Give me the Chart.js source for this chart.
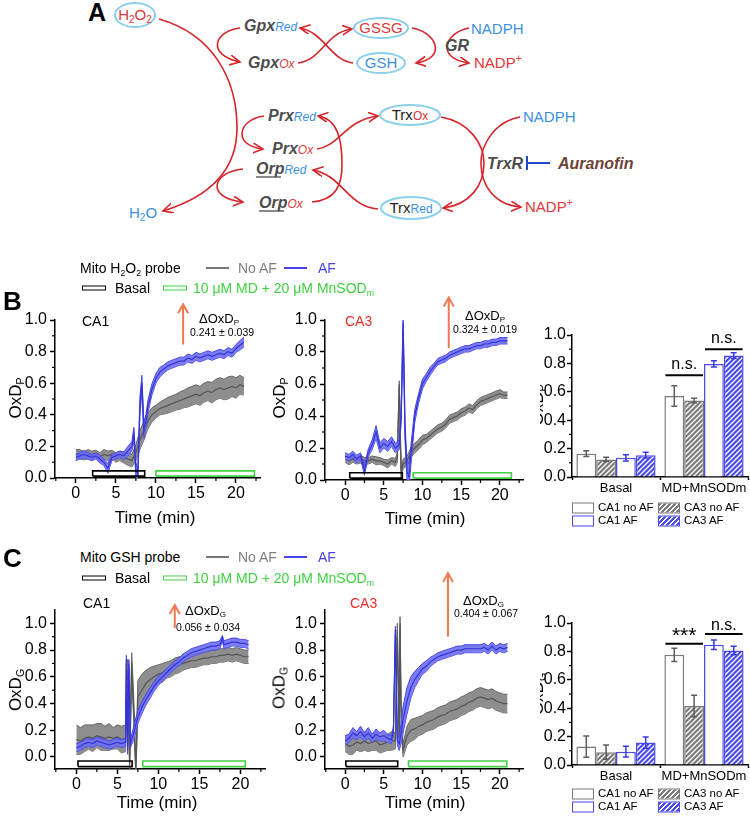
<!DOCTYPE html>
<html>
<head>
<meta charset="utf-8">
<title>Mito H2O2 and GSH probes</title>
<script src="https://cdn.jsdelivr.net/npm/chart.js@4.4.1/dist/chart.umd.min.js"></script>
<style>
  html, body { margin: 0; padding: 0; background: #fff; }
  body { font-family: "Liberation Sans", Arial, sans-serif; color: #000; }
  #fig { position: relative; width: 750px; height: 818px; overflow: hidden; }
  canvas, svg { position: absolute; }
  .lbl { position: absolute; white-space: nowrap; transform: translateY(-50%); line-height: 1; }
  .ctr { position: absolute; white-space: nowrap; transform: translate(-50%, -50%); line-height: 1; }
  .ytitle { position: absolute; white-space: nowrap; transform: translate(-50%, -50%) rotate(-90deg); font-size: 17px; line-height: 1; }
  .clip { position: absolute; overflow: hidden; }
  sub { font-size: 0.62em; vertical-align: -0.3em; line-height: 0; }
  .panel { position: absolute; font-weight: bold; font-size: 26px; transform: translateY(-50%); line-height: 1; }
  .head { font-size: 14px; }
  .swline { position: absolute; width: 23px; height: 0; border-top: 2px solid; }
  .swbox { position: absolute; width: 22px; height: 3px; border: 1.5px solid; background: #fff; transform: translateY(-50%); }
  .lg { position: absolute; width: 20px; height: 9px; border: 1.5px solid; background: #fff; transform: translateY(-50%); }
  .lgt { position: absolute; font-size: 11.5px; transform: translateY(-50%); line-height: 1; white-space: nowrap; }
</style>
</head>
<body>
<div id="fig">

<svg style="left:0;top:0" width="750" height="235" font-family="Liberation Sans, Arial, sans-serif">
  <defs>
    <marker id="ah" markerWidth="12" markerHeight="12" refX="10" refY="5" orient="auto" markerUnits="userSpaceOnUse">
      <path d="M0,0 L10,5 L0,10" fill="none" stroke="#d7242a" stroke-width="1.6"/>
    </marker>
  </defs>
  <text x="88" y="21" font-size="25" font-weight="bold">A</text>
  <g fill="none" stroke="#d7242a" stroke-width="1.6">
    <path d="M159,19 C212,34 237,78 237,128 C237,168 212,196 163,211" marker-end="url(#ah)"/>
    <path d="M240,28 C214,31 206,55 240,62" marker-end="url(#ah)"/>
    <path d="M298,63 C322,60 326,32 352,29" marker-end="url(#ah)"/>
    <path d="M353,63 C330,60 324,32 300,28" marker-end="url(#ah)"/>
    <path d="M412,28 C436,32 448,58 416,63" marker-end="url(#ah)"/>
    <path d="M469,28 C446,32 434,58 469,63" marker-end="url(#ah)"/>
    <path d="M264,116 C238,119 232,146 263,149" marker-end="url(#ah)"/>
    <path d="M243,169 C212,172 205,198 243,202" marker-end="url(#ah)"/>
    <path d="M317,149 C340,146 345,120 378,116" marker-end="url(#ah)"/>
    <path d="M312,202 C336,200 342,185 342,165 C342,140 338,119 318,116" marker-end="url(#ah)"/>
    <path d="M378,209 C348,207 342,175 313,170" marker-end="url(#ah)"/>
    <path d="M441,117 C470,122 484,145 484,163 C484,185 470,205 443,208" marker-end="url(#ah)"/>
    <path d="M520,117 C494,122 481,145 481,163 C481,185 494,205 521,207" marker-end="url(#ah)"/>
  </g>
  <g fill="#fff" stroke="#8ccfec" stroke-width="2">
    <ellipse cx="135" cy="15" rx="20" ry="12"/>
    <ellipse cx="381" cy="28" rx="27" ry="10"/>
    <ellipse cx="381" cy="63" rx="24" ry="10"/>
    <ellipse cx="410" cy="115" rx="30" ry="10"/>
    <ellipse cx="411" cy="208" rx="30" ry="11"/>
  </g>
  <text x="135" y="20" font-size="15" fill="#e0383a" text-anchor="middle">H<tspan font-size="10" dy="3">2</tspan><tspan dy="-3">O</tspan><tspan font-size="10" dy="3">2</tspan></text>
  <text x="244" y="31" font-size="16" font-weight="bold" font-style="italic" fill="#4d4d4d">Gpx<tspan font-size="12" font-weight="normal" fill="#3d8fe0">Red</tspan></text>
  <text x="248" y="68" font-size="16" font-weight="bold" font-style="italic" fill="#4d4d4d">Gpx<tspan font-size="12" font-weight="normal" fill="#e0383a">Ox</tspan></text>
  <text x="381" y="33" font-size="15" fill="#e0383a" text-anchor="middle">GSSG</text>
  <text x="381" y="68" font-size="15" fill="#3d8fe0" text-anchor="middle">GSH</text>
  <text x="471" y="34" font-size="15" fill="#3d8fe0">NADPH</text>
  <text x="445" y="51" font-size="16" font-weight="bold" font-style="italic" fill="#4d4d4d">GR</text>
  <text x="474" y="68" font-size="15" fill="#e0383a">NADP<tspan font-size="10" dy="-6">+</tspan></text>
  <text x="268" y="121" font-size="16" font-weight="bold" font-style="italic" fill="#4d4d4d">Prx<tspan font-size="12" font-weight="normal" fill="#3d8fe0">Red</tspan></text>
  <text x="272" y="154" font-size="16" font-weight="bold" font-style="italic" fill="#4d4d4d">Prx<tspan font-size="12" font-weight="normal" fill="#e0383a">Ox</tspan></text>
  <text x="256" y="174" font-size="16" font-weight="bold" font-style="italic" fill="#4d4d4d">Orp<tspan font-size="12" font-weight="normal" fill="#3d8fe0">Red</tspan></text>
  <line x1="256" y1="177" x2="281" y2="177" stroke="#4d4d4d" stroke-width="1.3"/>
  <text x="259" y="208" font-size="16" font-weight="bold" font-style="italic" fill="#4d4d4d">Orp<tspan font-size="12" font-weight="normal" fill="#e0383a">Ox</tspan></text>
  <line x1="259" y1="211" x2="284" y2="211" stroke="#4d4d4d" stroke-width="1.3"/>
  <text x="410" y="120" font-size="15" fill="#222" text-anchor="middle">Trx<tspan font-size="12" fill="#e0383a">Ox</tspan></text>
  <text x="411" y="213" font-size="15" fill="#222" text-anchor="middle">Trx<tspan font-size="12" fill="#3d8fe0">Red</tspan></text>
  <text x="523" y="122" font-size="15" fill="#3d8fe0">NADPH</text>
  <text x="487" y="169" font-size="16" font-weight="bold" font-style="italic" fill="#4d4d4d">TrxR</text>
  <g stroke="#2446c8" stroke-width="2">
    <line x1="527" y1="156" x2="527" y2="170"/>
    <line x1="527" y1="163" x2="550" y2="163"/>
  </g>
  <text x="558" y="169" font-size="16" font-weight="bold" font-style="italic" fill="#6e4236">Auranofin</text>
  <text x="525" y="212" font-size="15" fill="#e0383a">NADP<tspan font-size="10" dy="-6">+</tspan></text>
  <text x="129" y="218" font-size="15" fill="#3d8fe0">H<tspan font-size="10" dy="3">2</tspan><tspan dy="-3">O</tspan></text>
</svg>

<canvas id="bCa1" width="275" height="250" style="left:0;top:290px"></canvas>
<canvas id="bCa3" width="265" height="250" style="left:270px;top:290px"></canvas>
<canvas id="bBar" width="210" height="200" style="left:540px;top:300px"></canvas>
<canvas id="cCa1" width="275" height="233" style="left:0;top:585px"></canvas>
<canvas id="cCa3" width="265" height="253" style="left:270px;top:565px"></canvas>
<canvas id="cBar" width="210" height="190" style="left:540px;top:600px"></canvas>

<!-- panel B header -->
<div class="panel" style="left:3px;top:301px">B</div>
<div class="lbl head" style="left:80px;top:268px">Mito H<sub>2</sub>O<sub>2</sub> probe</div>
<div class="swline" style="left:206px;top:267px;border-color:#777"></div>
<div class="lbl head" style="left:238px;top:268px;color:#808080">No AF</div>
<div class="swline" style="left:284px;top:267px;border-color:#4545e8"></div>
<div class="lbl head" style="left:318px;top:268px;color:#4545e8">AF</div>
<div class="swbox" style="left:82px;top:288px;border-color:#000"></div>
<div class="lbl head" style="left:115px;top:288px">Basal</div>
<div class="swbox" style="left:163px;top:288px;border-color:#3fd13f"></div>
<div class="lbl head" style="left:193px;top:288px;color:#3fd13f">10 μM MD + 20 μM MnSOD<sub>m</sub></div>

<div class="lbl" style="left:82px;top:321px;font-size:14px">CA1</div>
<div class="lbl" style="left:345px;top:321px;font-size:14px;color:#e8302a">CA3</div>
<div class="lbl" style="left:199px;top:318px;font-size:13px">ΔOxD<sub>P</sub></div>
<div class="ctr" style="left:222px;top:332px;font-size:10.5px">0.241 ± 0.039</div>
<div class="lbl" style="left:465px;top:315px;font-size:13px">ΔOxD<sub>P</sub></div>
<div class="ctr" style="left:485px;top:329px;font-size:10.5px">0.324 ± 0.019</div>

<div class="ytitle" style="left:15px;top:398px">OxD<sub>P</sub></div>
<div class="ytitle" style="left:279px;top:398px">OxD<sub>P</sub></div>
<div class="clip" style="left:540px;top:360px;width:5px;height:90px"><div class="ytitle" style="left:-3px;top:45px">OxD<sub>P</sub></div></div>
<div class="ctr" style="left:155px;top:517px;font-size:17px">Time (min)</div>
<div class="ctr" style="left:425px;top:518px;font-size:17px">Time (min)</div>

<div class="lg" style="left:572px;top:508px;border-color:#7a7a7a"></div>
<div class="lgt" style="left:598px;top:508px">CA1 no AF</div>
<div class="lg" style="left:658px;top:508px;border-color:#7a7a7a;background:repeating-linear-gradient(135deg,#7a7a7a 0 2px,#fff 2px 3.5px)"></div>
<div class="lgt" style="left:684px;top:508px">CA3 no AF</div>
<div class="lg" style="left:572px;top:521px;border-color:#4b4bea"></div>
<div class="lgt" style="left:598px;top:521px">CA1 AF</div>
<div class="lg" style="left:658px;top:521px;border-color:#4b4bea;background:repeating-linear-gradient(135deg,#4b4bea 0 2px,#fff 2px 3.5px)"></div>
<div class="lgt" style="left:684px;top:521px">CA3 AF</div>

<!-- panel C header -->
<div class="panel" style="left:3px;top:558px">C</div>
<div class="lbl head" style="left:80px;top:557px">Mito GSH probe</div>
<div class="swline" style="left:206px;top:556px;border-color:#777"></div>
<div class="lbl head" style="left:238px;top:557px;color:#808080">No AF</div>
<div class="swline" style="left:284px;top:556px;border-color:#4545e8"></div>
<div class="lbl head" style="left:318px;top:557px;color:#4545e8">AF</div>
<div class="swbox" style="left:82px;top:578px;border-color:#000"></div>
<div class="lbl head" style="left:115px;top:578px">Basal</div>
<div class="swbox" style="left:163px;top:578px;border-color:#3fd13f"></div>
<div class="lbl head" style="left:193px;top:578px;color:#3fd13f">10 μM MD + 20 μM MnSOD<sub>m</sub></div>

<div class="lbl" style="left:83px;top:603px;font-size:14px">CA1</div>
<div class="lbl" style="left:350px;top:603px;font-size:14px;color:#e8302a">CA3</div>
<div class="lbl" style="left:185px;top:610px;font-size:13px">ΔOxD<sub>G</sub></div>
<div class="ctr" style="left:208px;top:627px;font-size:10.5px">0.056 ± 0.034</div>
<div class="lbl" style="left:463px;top:600px;font-size:13px">ΔOxD<sub>G</sub></div>
<div class="ctr" style="left:486px;top:613px;font-size:10.5px">0.404 ± 0.067</div>

<div class="ytitle" style="left:15px;top:690px">OxD<sub>G</sub></div>
<div class="ytitle" style="left:279px;top:688px">OxD<sub>G</sub></div>
<div class="clip" style="left:540px;top:649px;width:5px;height:90px"><div class="ytitle" style="left:-3px;top:45px">OxD<sub>G</sub></div></div>
<div class="ctr" style="left:157px;top:802px;font-size:17px">Time (min)</div>
<div class="ctr" style="left:425px;top:802px;font-size:17px">Time (min)</div>

<div class="lg" style="left:572px;top:794px;border-color:#7a7a7a"></div>
<div class="lgt" style="left:598px;top:794px">CA1 no AF</div>
<div class="lg" style="left:658px;top:794px;border-color:#7a7a7a;background:repeating-linear-gradient(135deg,#7a7a7a 0 2px,#fff 2px 3.5px)"></div>
<div class="lgt" style="left:684px;top:794px">CA3 no AF</div>
<div class="lg" style="left:572px;top:807px;border-color:#4b4bea"></div>
<div class="lgt" style="left:598px;top:807px">CA1 AF</div>
<div class="lg" style="left:658px;top:807px;border-color:#4b4bea;background:repeating-linear-gradient(135deg,#4b4bea 0 2px,#fff 2px 3.5px)"></div>
<div class="lgt" style="left:684px;top:807px">CA3 AF</div>
</div>

<script>
// ---- data ----
// B, CA1 (mito H2O2 probe)
const tHalf = [0,0.5,1,1.5,2,2.5,3,3.5,4,4.5,5,5.5,6,6.5,7,7.5,8,8.5,9,9.5,10,10.5,11,11.5,12,12.5,13,13.5,14,14.5,15,15.5,16,16.5,17,17.5,18,18.5,19,19.5,20,20.5,21];
const bCa1GrayM = [0.15,0.15,0.14,0.15,0.14,0.15,0.13,0.15,0.14,0.15,0.13,0.14,0.13,0.12,0.11,0.16,0.24,0.30,0.36,0.40,0.42,0.44,0.45,0.46,0.47,0.48,0.49,0.50,0.51,0.52,0.53,0.52,0.54,0.55,0.54,0.56,0.57,0.56,0.57,0.58,0.57,0.59,0.58];
const bCa1GrayE = [0.03,0.03,0.025,0.03,0.03,0.025,0.03,0.03,0.03,0.025,0.03,0.03,0.035,0.04,0.04,0.05,0.06,0.06,0.05,0.045,0.04,0.04,0.045,0.05,0.05,0.05,0.055,0.055,0.06,0.06,0.06,0.06,0.06,0.06,0.065,0.065,0.065,0.065,0.07,0.065,0.065,0.06,0.055];
const bCa1BlueT = [0,0.5,1,1.5,2,2.5,3,3.5,4,4.5,5,5.5,6,6.5,7,7.25,7.5,7.75,8,8.25,8.5,8.75,9,9.5,10,10.5,11,11.5,12,12.5,13,13.5,14,14.5,15,15.5,16,16.5,17,17.5,18,18.5,19,19.5,20,20.5,21];
const bCa1BlueM = [0.13,0.14,0.15,0.14,0.13,0.14,0.12,0.10,0.06,0.13,0.14,0.15,0.14,0.17,0.20,0.28,0.05,0.02,0.45,0.60,0.30,0.36,0.45,0.56,0.63,0.67,0.69,0.71,0.72,0.73,0.74,0.74,0.76,0.75,0.77,0.76,0.77,0.78,0.77,0.78,0.79,0.78,0.80,0.79,0.82,0.84,0.86];
const bCa1BlueE = [0.02,0.02,0.025,0.02,0.02,0.02,0.025,0.02,0.03,0.02,0.02,0.02,0.025,0.03,0.03,0.04,0.05,0.03,0.06,0.05,0.05,0.04,0.04,0.035,0.03,0.03,0.025,0.025,0.025,0.025,0.025,0.025,0.025,0.025,0.025,0.025,0.025,0.025,0.025,0.025,0.025,0.025,0.025,0.025,0.025,0.03,0.03];

// B, CA3
const bCa3GrayT = [0,0.5,1,1.5,2,2.5,3,3.5,4,4.5,5,5.5,6,6.5,6.75,7,7.25,7.5,8,8.5,9,9.5,10,10.5,11,11.5,12,12.5,13,13.5,14,14.5,15,15.5,16,16.5,17,17.5,18,18.5,19,19.5,20,20.5,21];
const bCa3GrayM = [0.13,0.12,0.13,0.12,0.13,0.12,0.12,0.13,0.12,0.12,0.11,0.10,0.12,0.11,0.14,0.60,0.04,0.10,0.12,0.17,0.20,0.22,0.25,0.26,0.28,0.30,0.32,0.33,0.35,0.38,0.39,0.40,0.42,0.43,0.45,0.44,0.47,0.49,0.50,0.51,0.52,0.53,0.54,0.53,0.53];
const bCa3GrayE = [0.02,0.025,0.02,0.02,0.025,0.02,0.02,0.02,0.025,0.02,0.02,0.025,0.02,0.025,0.03,0.02,0.03,0.03,0.03,0.03,0.03,0.03,0.03,0.025,0.025,0.025,0.025,0.025,0.025,0.025,0.025,0.025,0.025,0.025,0.025,0.025,0.025,0.025,0.025,0.025,0.025,0.025,0.025,0.02,0.02];
const bCa3BlueT = [0,0.5,1,1.5,2,2.5,3,3.5,4,4.5,5,5.5,6,6.5,7,7.25,7.5,7.75,8,8.25,8.5,9,9.5,10,10.5,11,11.5,12,12.5,13,13.5,14,14.5,15,15.5,16,16.5,17,17.5,18,18.5,19,19.5,20,20.5,21];
const bCa3BlueM = [0.15,0.14,0.16,0.13,0.15,0.06,0.17,0.22,0.30,0.20,0.23,0.21,0.24,0.20,0.22,0.40,0.98,0.30,0.05,0.02,0.15,0.40,0.51,0.60,0.64,0.68,0.71,0.74,0.75,0.76,0.78,0.79,0.80,0.81,0.82,0.82,0.83,0.84,0.84,0.85,0.85,0.86,0.86,0.87,0.87,0.87];
const bCa3BlueE = [0.02,0.02,0.02,0.025,0.02,0.03,0.025,0.03,0.04,0.03,0.03,0.03,0.03,0.03,0.03,0.04,0.05,0.06,0.06,0.08,0.06,0.04,0.03,0.03,0.025,0.025,0.02,0.02,0.02,0.02,0.02,0.02,0.02,0.02,0.02,0.02,0.02,0.02,0.02,0.02,0.02,0.02,0.02,0.02,0.02,0.02];

// C, CA1 (mito GSH probe)
const cCa1GrayT = [0,0.5,1,1.5,2,2.5,3,3.5,4,4.5,5,5.5,6,6.25,6.5,6.75,7,7.25,7.5,8,8.5,9,9.5,10,10.5,11,11.5,12,12.5,13,13.5,14,14.5,15,15.5,16,16.5,17,17.5,18,18.5,19,19.5,20,20.5,21];
const cCa1GrayM = [0.13,0.12,0.14,0.15,0.14,0.16,0.15,0.14,0.15,0.14,0.15,0.13,0.14,0.65,-0.05,0.70,0.35,-0.10,0.45,0.50,0.55,0.58,0.60,0.62,0.63,0.65,0.66,0.68,0.69,0.70,0.71,0.72,0.72,0.73,0.74,0.74,0.75,0.75,0.76,0.76,0.77,0.76,0.77,0.76,0.75,0.75];
const cCa1GrayE = [0.11,0.1,0.1,0.09,0.1,0.09,0.1,0.09,0.1,0.08,0.09,0.1,0.1,0.08,0.06,0.08,0.1,0.05,0.12,0.12,0.1,0.09,0.08,0.07,0.07,0.06,0.06,0.06,0.06,0.05,0.05,0.05,0.05,0.05,0.05,0.05,0.05,0.05,0.05,0.05,0.05,0.05,0.05,0.05,0.05,0.05];
const cCa1BlueT = [0,0.5,1,1.5,2,2.5,3,3.5,4,4.5,5,5.5,6,6.1,6.25,6.4,6.6,7,7.5,8,8.5,9,9.5,10,10.5,11,11.5,12,12.5,13,13.5,14,14.5,15,15.5,16,16.5,17,17.5,17.8,18,18.5,19,19.5,20,20.5,21];
const cCa1BlueM = [0.07,0.08,0.10,0.11,0.10,0.12,0.11,0.10,0.09,0.10,0.11,0.10,0.11,0.73,0.05,0.70,0.10,0.18,0.30,0.37,0.43,0.48,0.53,0.57,0.60,0.63,0.66,0.69,0.71,0.74,0.76,0.78,0.79,0.80,0.81,0.82,0.83,0.83,0.84,0.89,0.84,0.85,0.86,0.86,0.85,0.85,0.84];
const cCa1BlueE = [0.03,0.03,0.03,0.03,0.03,0.03,0.03,0.03,0.03,0.03,0.03,0.03,0.03,0.03,0.03,0.03,0.03,0.05,0.05,0.045,0.04,0.04,0.035,0.035,0.03,0.03,0.03,0.03,0.03,0.03,0.03,0.03,0.03,0.03,0.03,0.03,0.03,0.03,0.03,0.02,0.03,0.03,0.03,0.03,0.03,0.03,0.03];

// C, CA3
const cCa3GrayT = [0,0.5,1,1.5,2,2.5,3,3.5,4,4.5,5,5.5,6,6.5,6.75,7,7.1,7.25,7.5,8,8.5,9,9.5,10,10.5,11,11.5,12,12.5,13,13.5,14,14.5,15,15.5,16,16.5,17,17.5,18,18.5,19,19.5,20,20.5,21];
const cCa3GrayM = [0.10,0.08,0.09,0.11,0.10,0.12,0.10,0.11,0.12,0.09,0.10,0.11,0.12,0.12,0.95,0.10,1.00,0.30,0.05,0.16,0.20,0.21,0.23,0.24,0.26,0.27,0.28,0.30,0.31,0.32,0.34,0.35,0.36,0.38,0.39,0.41,0.42,0.44,0.45,0.44,0.43,0.44,0.42,0.41,0.40,0.40];
const cCa3GrayE = [0.06,0.06,0.07,0.06,0.06,0.07,0.06,0.06,0.07,0.06,0.06,0.06,0.07,0.06,0.05,0.05,0.05,0.08,0.05,0.07,0.08,0.08,0.07,0.07,0.07,0.07,0.07,0.07,0.07,0.07,0.07,0.07,0.07,0.07,0.07,0.07,0.07,0.07,0.07,0.07,0.07,0.07,0.07,0.07,0.07,0.07];
const cCa3BlueT = [0,0.5,1,1.5,2,2.5,3,3.5,4,4.5,5,5.5,6,6.25,6.5,6.75,7,7.25,7.5,8,8.5,9,9.5,10,10.5,11,11.5,12,12.5,13,13.5,14,14.5,15,15.5,16,16.5,17,17.5,18,18.5,19,19.5,20,20.5,21];
const cCa3BlueM = [0.12,0.14,0.18,0.16,0.19,0.15,0.18,0.14,0.17,0.15,0.16,0.14,0.13,0.20,0.95,0.12,0.10,0.18,0.28,0.42,0.52,0.58,0.62,0.66,0.68,0.71,0.73,0.75,0.76,0.77,0.78,0.79,0.80,0.80,0.81,0.81,0.81,0.81,0.81,0.82,0.80,0.83,0.80,0.82,0.81,0.82];
const cCa3BlueE = [0.04,0.03,0.04,0.03,0.04,0.03,0.04,0.03,0.04,0.03,0.04,0.03,0.03,0.03,0.03,0.03,0.05,0.08,0.1,0.1,0.08,0.06,0.05,0.04,0.04,0.035,0.03,0.03,0.03,0.03,0.03,0.03,0.03,0.03,0.03,0.03,0.03,0.03,0.03,0.03,0.03,0.03,0.03,0.03,0.03,0.03];

// treatment windows (min) drawn as outlined boxes along the bottom
const basalB1 = [2.1, 8.6], mdB1 = [10.0, 22.3];
const basalB3 = [0.6, 7.4], mdB3 = [8.8, 21.5];
const basalC1 = [0.2, 6.8], mdC1 = [8.1, 20.6];
const basalC3 = [0.1, 6.8], mdC3 = [8.2, 20.9];

// delta arrows: [time, from, to]
const arrowB1 = [13.4, 0.845, 1.10];
const arrowB3 = [13.4, 0.825, 1.14];
const arrowC1 = [12.0, 0.965, 1.137];
const arrowC3 = [13.3, 0.90, 1.376];

// bar charts
const barCats = ['Basal', 'MD+MnSODm'];
const bNoAf1 = [0.164, 0.57],  bNoAf1Err = [0.02, 0.072];
const bNoAf3 = [0.124, 0.539], bNoAf3Err = [0.015, 0.016];
const bAf1 = [0.135, 0.796],   bAf1Err = [0.022, 0.022];
const bAf3 = [0.154, 0.855],   bAf3Err = [0.02, 0.02];
const cNoAf1 = [0.13, 0.776],  cNoAf1Err = [0.075, 0.047];
const cNoAf3 = [0.09, 0.416],  cNoAf3Err = [0.05, 0.076];
const cAf1 = [0.094, 0.847],   cAf1Err = [0.038, 0.033];
const cAf3 = [0.158, 0.807],   cAf3Err = [0.04, 0.03];

const yMinor = [0.1, 0.3, 0.5, 0.7, 0.9];
const xMinor = [-2.5, 2.5, 7.5, 12.5, 17.5, 22.5];

Chart.defaults.font.family = '"Liberation Sans", Arial, sans-serif';
Chart.defaults.color = '#000';

// ---- small plugins ----
const minorTicks = {
  id: 'minorTicks',
  afterDraw(chart, args, o) {
    const ctx = chart.ctx, a = chart.chartArea;
    ctx.save();
    ctx.strokeStyle = '#000';
    ctx.lineWidth = 1.2;
    (o.y || []).forEach(v => {
      const p = chart.scales.y.getPixelForValue(v);
      ctx.beginPath(); ctx.moveTo(a.left, p); ctx.lineTo(a.left - 3, p); ctx.stroke();
    });
    (o.x || []).forEach(v => {
      const p = chart.scales.x.getPixelForValue(v);
      ctx.beginPath(); ctx.moveTo(p, a.bottom); ctx.lineTo(p, a.bottom + 3); ctx.stroke();
    });
    ctx.restore();
  }
};

const upArrow = {
  id: 'upArrow',
  afterDraw(chart, args, o) {
    if (!o.spec) return;
    const x = chart.scales.x.getPixelForValue(o.spec[0]);
    const y0 = chart.scales.y.getPixelForValue(o.spec[1]);
    const y1 = chart.scales.y.getPixelForValue(o.spec[2]);
    const ctx = chart.ctx;
    ctx.save();
    ctx.strokeStyle = '#f07850';
    ctx.lineWidth = 2;
    ctx.beginPath();
    ctx.moveTo(x, y0); ctx.lineTo(x, y1);
    ctx.moveTo(x - 5, y1 + 9); ctx.lineTo(x, y1); ctx.lineTo(x + 5, y1 + 9);
    ctx.stroke();
    ctx.restore();
  }
};

const errBars = {
  id: 'errBars',
  afterDatasetsDraw(chart) {
    const ctx = chart.ctx, ys = chart.scales.y;
    chart.data.datasets.forEach((ds, i) => {
      chart.getDatasetMeta(i).data.forEach((bar, j) => {
        const hi = ys.getPixelForValue(ds.data[j] + ds.errors[j]);
        const lo = ys.getPixelForValue(ds.data[j] - ds.errors[j]);
        ctx.save();
        ctx.strokeStyle = ds.errColor;
        ctx.lineWidth = 1.5;
        ctx.beginPath();
        ctx.moveTo(bar.x, hi); ctx.lineTo(bar.x, lo);
        ctx.moveTo(bar.x - 3, hi); ctx.lineTo(bar.x + 3, hi);
        ctx.moveTo(bar.x - 3, lo); ctx.lineTo(bar.x + 3, lo);
        ctx.stroke();
        ctx.restore();
      });
    });
  }
};

const sigMarks = {
  id: 'sigMarks',
  afterDraw(chart, args, o) {
    const ctx = chart.ctx;
    (o.marks || []).forEach(m => {
      const a = chart.getDatasetMeta(m.from).data[1];
      const b = chart.getDatasetMeta(m.to).data[1];
      const y = chart.scales.y.getPixelForValue(m.y);
      const ty = chart.scales.y.getPixelForValue(m.ty);
      ctx.save();
      ctx.strokeStyle = '#000';
      ctx.lineWidth = 2;
      ctx.beginPath();
      ctx.moveTo(a.x - a.width / 2 + 1, y); ctx.lineTo(b.x + b.width / 2 - 1, y);
      ctx.stroke();
      ctx.fillStyle = '#000';
      ctx.font = m.size + 'px "Liberation Sans", Arial, sans-serif';
      ctx.textAlign = 'center';
      ctx.textBaseline = 'middle';
      ctx.fillText(m.text, (a.x + b.x) / 2, ty);
      ctx.restore();
    });
  }
};

// ---- time course charts ----
function band(t, m, e, edge, mean, fillCol) {
  return [
    {data: t.map((x, i) => ({x: x, y: m[i]})), borderColor: mean, borderWidth: 1.2, pointRadius: 0, fill: false},
    {data: t.map((x, i) => ({x: x, y: m[i] + e[i]})), borderColor: edge, borderWidth: 1, pointRadius: 0, fill: '+1', backgroundColor: fillCol},
    {data: t.map((x, i) => ({x: x, y: m[i] - e[i]})), borderColor: edge, borderWidth: 1, pointRadius: 0, fill: false}
  ];
}

function box(win, y0, y1, col) {
  return {
    data: [{x: win[0], y: y0}, {x: win[1], y: y0}, {x: win[1], y: y1}, {x: win[0], y: y1}, {x: win[0], y: y0}],
    borderColor: col, borderWidth: 1.6, pointRadius: 0, fill: false
  };
}

function timeChart(id, s) {
  return new Chart(document.getElementById(id), {
    type: 'line',
    data: {
      datasets: [
        box(s.basal, s.boxY[0], s.boxY[1], '#000'),
        box(s.md, s.boxY[0], s.boxY[1], '#3fd13f')
      ].concat(
        band(s.blue[0], s.blue[1], s.blue[2], '#4646e8', '#3434d6', 'rgba(110,110,242,0.9)'),
        band(s.gray[0], s.gray[1], s.gray[2], '#666', '#555', '#8e8e8e')
      )
    },
    options: {
      responsive: false,
      animation: false,
      devicePixelRatio: 1,
      layout: {padding: {top: s.padTop, right: s.padRight, left: 0, bottom: 0}},
      elements: {line: {tension: 0}},
      plugins: {
        legend: {display: false},
        tooltip: {enabled: false},
        minorTicks: {x: xMinor, y: yMinor},
        upArrow: {spec: s.arrow}
      },
      scales: {
        x: {
          type: 'linear', min: -2.6, max: 23,
          border: {color: '#000', width: 1.5},
          grid: {drawOnChartArea: false, tickLength: 5, tickWidth: 1.5, tickColor: '#000'},
          ticks: {stepSize: 5, includeBounds: false, font: {size: 16}, padding: 1, maxRotation: 0, color: '#000'},
          afterFit: sc => { sc.height = s.xH; }
        },
        y: {
          min: s.yMin, max: s.yMax,
          border: {color: '#000', width: 1.5},
          grid: {drawOnChartArea: false, tickLength: 5, tickWidth: 1.5, tickColor: '#000'},
          ticks: {stepSize: 0.2, includeBounds: false, font: {size: 16}, padding: 3, color: '#000',
                  callback: v => v.toFixed(1)},
          afterFit: sc => { sc.width = 55; }
        }
      }
    },
    plugins: [minorTicks, upArrow]
  });
}

timeChart('bCa1', {
  gray: [tHalf, bCa1GrayM, bCa1GrayE], blue: [bCa1BlueT, bCa1BlueM, bCa1BlueE],
  basal: basalB1, md: mdB1, boxY: [0.012, 0.045], arrow: arrowB1,
  yMin: 0, yMax: 1.0, padTop: 30, padRight: 15, xH: 62
});
timeChart('bCa3', {
  gray: [bCa3GrayT, bCa3GrayM, bCa3GrayE], blue: [bCa3BlueT, bCa3BlueM, bCa3BlueE],
  basal: basalB3, md: mdB3, boxY: [0.012, 0.045], arrow: arrowB3,
  yMin: 0, yMax: 1.0, padTop: 30, padRight: 12, xH: 60
});
timeChart('cCa1', {
  gray: [cCa1GrayT, cCa1GrayM, cCa1GrayE], blue: [cCa1BlueT, cCa1BlueM, cCa1BlueE],
  basal: basalC1, md: mdC1, boxY: [-0.072, -0.03], arrow: arrowC1,
  yMin: -0.09, yMax: 1.1, padTop: 25, padRight: 10, xH: 49
});
timeChart('cCa3', {
  gray: [cCa3GrayT, cCa3GrayM, cCa3GrayE], blue: [cCa3BlueT, cCa3BlueM, cCa3BlueE],
  basal: basalC3, md: mdC3, boxY: [-0.072, -0.03], arrow: arrowC3,
  yMin: -0.09, yMax: 1.1, padTop: 45, padRight: 12, xH: 49
});

// ---- bar charts ----
function hatch(back) {
  const c = document.createElement('canvas');
  c.width = 5; c.height = 5;
  const g = c.getContext('2d');
  g.fillStyle = back; g.fillRect(0, 0, 5, 5);
  g.strokeStyle = '#fff'; g.lineWidth = 1.3;
  g.beginPath();
  g.moveTo(0, 5); g.lineTo(5, 0);
  g.moveTo(-1, 1); g.lineTo(1, -1);
  g.moveTo(4, 6); g.lineTo(6, 4);
  g.stroke();
  return g.createPattern(c, 'repeat');
}
const grayHatch = hatch('#7a7a7a');
const blueHatch = hatch('#4b4bea');

function barChart(id, s) {
  const ds = (data, err, bg, border) => ({
    data: data, errors: err, errColor: border === '#7a7a7a' ? '#5c5c5c' : '#3a3ae0',
    backgroundColor: bg, borderColor: border, borderWidth: 1.5,
    barPercentage: 1.0, categoryPercentage: 0.9
  });
  return new Chart(document.getElementById(id), {
    type: 'bar',
    data: {
      labels: barCats,
      datasets: [
        ds(s.v[0], s.e[0], '#fff', '#7a7a7a'),
        ds(s.v[1], s.e[1], grayHatch, '#7a7a7a'),
        ds(s.v[2], s.e[2], '#fff', '#4b4bea'),
        ds(s.v[3], s.e[3], blueHatch, '#4b4bea')
      ]
    },
    options: {
      responsive: false,
      animation: false,
      devicePixelRatio: 1,
      layout: {padding: {top: s.padTop, right: 2, left: 0, bottom: 0}},
      plugins: {
        legend: {display: false},
        tooltip: {enabled: false},
        minorTicks: {y: yMinor},
        sigMarks: {marks: s.marks}
      },
      scales: {
        x: {
          border: {color: '#000', width: 1.5},
          grid: {drawOnChartArea: false, tickLength: 3, tickWidth: 1.5, tickColor: '#000'},
          ticks: {font: {size: 13}, padding: 1, color: '#000', maxRotation: 0},
          afterFit: sc => { sc.height = s.xH; }
        },
        y: {
          min: 0, max: 1.0,
          border: {color: '#000', width: 1.5},
          grid: {drawOnChartArea: false, tickLength: 5, tickWidth: 1.5, tickColor: '#000'},
          ticks: {stepSize: 0.2, font: {size: 16}, padding: 1, color: '#000', callback: v => v.toFixed(1)},
          afterFit: sc => { sc.width = 32; }
        }
      }
    },
    plugins: [minorTicks, errBars, sigMarks]
  });
}

barChart('bBar', {
  v: [bNoAf1, bNoAf3, bAf1, bAf3], e: [bNoAf1Err, bNoAf3Err, bAf1Err, bAf3Err],
  padTop: 35, xH: 23,
  marks: [
    {from: 0, to: 1, y: 0.717, ty: 0.79, text: 'n.s.', size: 16},
    {from: 2, to: 3, y: 0.90, ty: 0.975, text: 'n.s.', size: 16}
  ]
});
barChart('cBar', {
  v: [cNoAf1, cNoAf3, cAf1, cAf3], e: [cNoAf1Err, cNoAf3Err, cAf1Err, cAf3Err],
  padTop: 23, xH: 25,
  marks: [
    {from: 0, to: 1, y: 0.854, ty: 0.905, text: '***', size: 21},
    {from: 2, to: 3, y: 0.922, ty: 0.98, text: 'n.s.', size: 16}
  ]
});
</script>
</body>
</html>
